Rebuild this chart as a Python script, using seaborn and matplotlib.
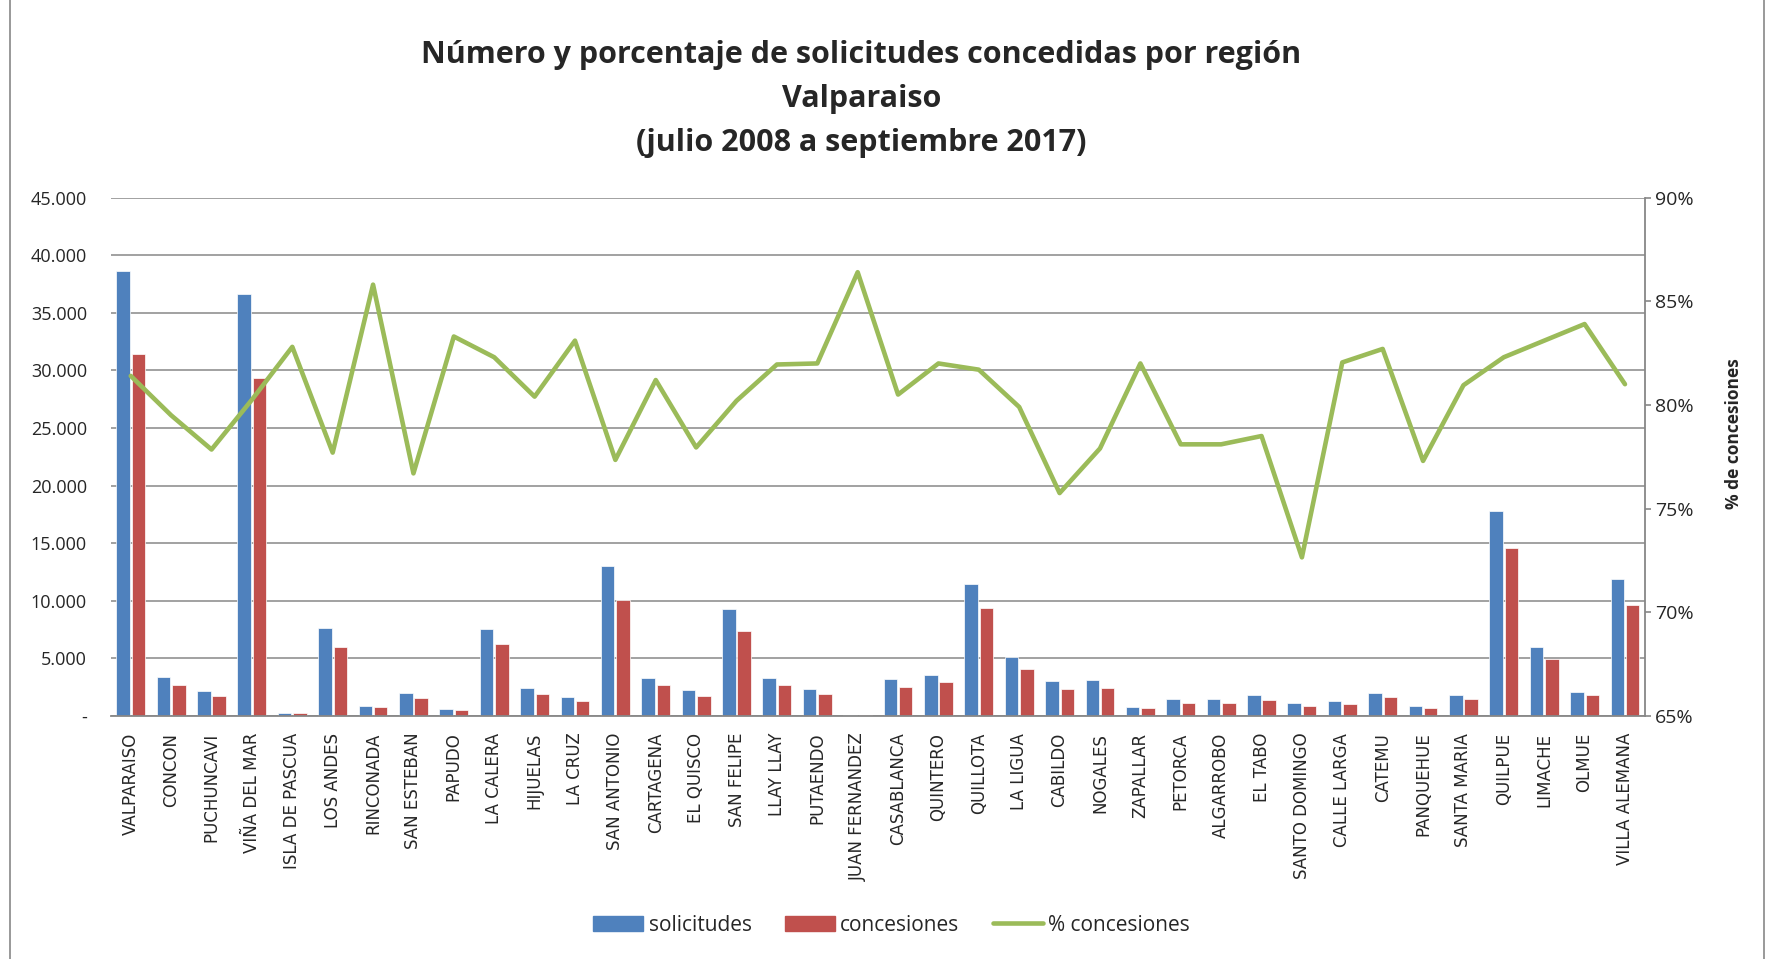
import numpy as np
import pandas as pd
import seaborn as sns
import matplotlib.pyplot as plt
from matplotlib.patches import Patch, Rectangle
from matplotlib.lines import Line2D
from matplotlib.ticker import FuncFormatter

comunas = ['VALPARAISO', 'CONCON', 'PUCHUNCAVI', 'VIÑA DEL MAR', 'ISLA DE PASCUA',
           'LOS ANDES', 'RINCONADA', 'SAN ESTEBAN', 'PAPUDO', 'LA CALERA', 'HIJUELAS',
           'LA CRUZ', 'SAN ANTONIO', 'CARTAGENA', 'EL QUISCO', 'SAN FELIPE', 'LLAY LLAY',
           'PUTAENDO', 'JUAN FERNANDEZ', 'CASABLANCA', 'QUINTERO', 'QUILLOTA', 'LA LIGUA',
           'CABILDO', 'NOGALES', 'ZAPALLAR', 'PETORCA', 'ALGARROBO', 'EL TABO',
           'SANTO DOMINGO', 'CALLE LARGA', 'CATEMU', 'PANQUEHUE', 'SANTA MARIA',
           'QUILPUE', 'LIMACHE', 'OLMUE', 'VILLA ALEMANA']

solicitudes = [38660, 3350, 2210, 36630, 300, 7620, 900, 2000, 600, 7560, 2420,
               1670, 13060, 3260, 2240, 9260, 3290, 2360, 90, 3200, 3590, 11500,
               5080, 3080, 3140, 800, 1460, 1490, 1820, 1100, 1340, 1970, 900, 1820,
               17750, 5950, 2120, 11920]

concesiones = [31430, 2660, 1700, 29340, 240, 5950, 750, 1550, 480, 6240, 1940,
               1340, 10100, 2660, 1760, 7410, 2660, 1880, 70, 2540, 2930, 9380,
               4060, 2300, 2450, 660, 1140, 1140, 1430, 840, 1080, 1640, 690, 1460,
               14580, 4930, 1790, 9650]

pct_concesiones = [81.4, 79.5, 77.85, 80.25, 82.8, 77.7, 85.8, 76.7, 83.3, 82.3, 80.4,
                   83.1, 77.35, 81.2, 77.95, 80.2, 81.95, 82.0, 86.4, 80.5, 82.0, 81.7,
                   79.9, 75.75, 77.9, 82.0, 78.1, 78.1, 78.5, 72.65, 82.05, 82.7, 77.3,
                   80.95, 82.3, 83.1, 83.9, 81.0]

series = ['solicitudes', 'concesiones']
titulo = 'Número y porcentaje de solicitudes concedidas por región\nValparaiso\n(julio 2008 a septiembre 2017)'

azul = '#4F81BD'
rojo = '#C0504D'
verde = '#9BBB59'
gris = '#878787'

df = pd.DataFrame({
    'comuna': comunas * 2,
    'serie': ['solicitudes'] * len(comunas) + ['concesiones'] * len(comunas),
    'valor': solicitudes + concesiones,
})

sns.set_theme(style='white')
plt.rcParams['font.family'] = ['Open Sans', 'DejaVu Sans']

fig = plt.figure(figsize=(17.69, 9.59), dpi=100)
ax = fig.add_axes([0.0625, 0.2534, 0.8675, 0.5406])

sns.barplot(data=df, x='comuna', y='valor', hue='serie', hue_order=series,
            palette=[azul, rojo], saturation=1, width=0.76, gap=0.12,
            edgecolor='white', linewidth=0.5, legend=False, ax=ax)

ax2 = ax.twinx()
sns.lineplot(x=comunas, y=[p / 100 for p in pct_concesiones], sort=False,
             color=verde, lw=3.3, ax=ax2)

n = len(comunas)
ax.set_xlim(-0.5, n - 0.5)
ax.set_ylim(0, 45000)
ax.set_yticks(np.arange(0, 45001, 5000))
ax.yaxis.set_major_formatter(FuncFormatter(
    lambda v, p: '-' if v == 0 else f'{int(v):,}'.replace(',', '.')))
ax2.set_ylim(0.65, 0.90)
ax2.set_yticks(np.arange(0.65, 0.9001, 0.05))
ax2.yaxis.set_major_formatter(FuncFormatter(lambda v, p: f'{v * 100:.0f}%'))

ax.yaxis.grid(True, color=gris, lw=1.1)
ax.set_axisbelow(True)
for s in ['top', 'left', 'right']:
    ax.spines[s].set_visible(False)
    ax2.spines[s].set_visible(False)
ax.spines['bottom'].set_color(gris)
ax.spines['bottom'].set_linewidth(1.3)
ax2.spines['bottom'].set_visible(False)
ax2.spines['right'].set_visible(True)
ax2.spines['right'].set_color(gris)
ax2.spines['right'].set_linewidth(1.3)

ax.set_xticks(range(n))
ax.set_xticklabels(comunas, rotation=90, fontsize=12, family='DejaVu Sans')
ax.tick_params(axis='x', length=0, pad=12)
ax.tick_params(axis='y', length=0, pad=17, labelsize=13)
ax2.tick_params(axis='y', length=4, width=1.2, color=gris, pad=3, labelsize=14,
                direction='out')

ax.set_xlabel('')
ax.set_ylabel('')
ax2.set_xlabel('')
ax2.set_ylabel('% de concesiones', fontsize=12.5, fontweight='bold')
ax2.yaxis.set_label_coords(1.052, 0.545)

fig.text(0.487, 0.897, titulo, ha='center', va='center', fontsize=22,
         fontweight='bold', linespacing=1.6)

handles = [Patch(color=azul), Patch(color=rojo), Line2D([], [], color=verde, lw=3.3)]
fig.legend(handles, ['solicitudes', 'concesiones', '% concesiones'], loc='center',
           bbox_to_anchor=(0.504, 0.035), ncol=3, frameon=False, fontsize=15,
           handlelength=2.4, handleheight=0.75, handletextpad=0.25, columnspacing=1.6)

fig.add_artist(Rectangle((0.0057, -0.02), 0.9915, 1.04, transform=fig.transFigure,
                         fill=False, edgecolor=gris, lw=1.2))

fig.savefig('out.png', dpi=100)
